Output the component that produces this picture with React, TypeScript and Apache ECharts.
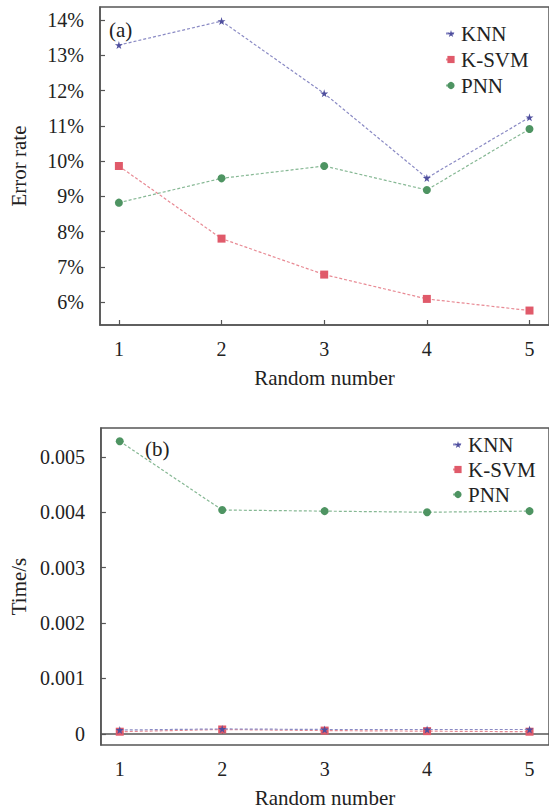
import React, { useEffect, useRef } from "react";
import * as echarts from "echarts";

const randomNumbers = [1, 2, 3, 4, 5];
const errorKNN = [13.29, 13.97, 11.92, 9.52, 11.24];
const errorKSVM = [9.86, 7.8, 6.78, 6.09, 5.76];
const errorPNN = [8.82, 9.51, 9.86, 9.18, 10.91];
const timeKNN = [0.00007, 0.00009, 0.00008, 0.00008, 0.00008];
const timeKSVM = [0.00004, 0.00008, 0.00006, 0.00005, 0.00004];
const timePNN = [0.00528, 0.00404, 0.00402, 0.004, 0.00402];
const errorTicks = [6, 7, 8, 9, 10, 11, 12, 13, 14];
const timeTicks = [0, 0.001, 0.002, 0.003, 0.004, 0.005];
const seriesNames = ["KNN", "K-SVM", "PNN"];

const FONT = "'Liberation Serif', 'Times New Roman', serif";
const TXT = "#222";
const AX = "#555";
const COLORS = { KNN: "#4f4f9e", "K-SVM": "#e05a6a", PNN: "#4e9462" };
const LINECOL = { KNN: "#8a8ac4", "K-SVM": "#e88a94", PNN: "#86b894" };
const STAR =
  "path://M50,0 L61,35 L98,35 L68,57 L79,91 L50,70 L21,91 L32,57 L2,35 L39,35 Z";
const SYMBOLS = { KNN: STAR, "K-SVM": "rect", PNN: "circle" };
const SIZES = { KNN: 8, "K-SVM": 8, PNN: 8 };

function pairs(vals: number[]) {
  return randomNumbers.map((x, i) => [x, vals[i]]);
}

function makeSeries(name: string, vals: number[], idx: number) {
  return {
    name,
    type: "line",
    xAxisIndex: idx,
    yAxisIndex: idx,
    data: pairs(vals),
    symbol: SYMBOLS[name],
    symbolSize: SIZES[name],
    itemStyle: { color: COLORS[name] },
    lineStyle: { color: LINECOL[name], width: 1.2, type: [3, 2] },
    z: name === "KNN" ? 4 : 3,
  };
}

function xAxisCfg(gridIndex: number) {
  return {
    type: "value",
    gridIndex,
    min: 0.816,
    max: 5.19,
    name: "Random number",
    nameLocation: "middle",
    nameGap: 42,
    nameTextStyle: { fontFamily: FONT, fontSize: 21, color: TXT },
    axisLine: { lineStyle: { color: AX, width: 1.5 } },
    axisTick: { inside: true, length: 5, customValues: randomNumbers, lineStyle: { color: AX, width: 1.2 } },
    axisLabel: {
      customValues: randomNumbers,
      margin: 14,
      fontFamily: FONT,
      fontSize: 20,
      color: TXT,
      formatter: (v: number) => String(v),
    },
    splitLine: { show: false },
  };
}

export default function App() {
  const ref = useRef<HTMLDivElement>(null);
  useEffect(() => {
    const chart = echarts.init(ref.current!, null, { renderer: "svg" });
    chart.setOption({
      animation: false,
      backgroundColor: "#fff",
      textStyle: { fontFamily: FONT },
      grid: [
        { left: 98, top: 7, width: 452, height: 318, show: true, borderColor: AX, borderWidth: 1.5 },
        { left: 98, top: 428, width: 452, height: 317, show: true, borderColor: AX, borderWidth: 1.5 },
      ],
      xAxis: [xAxisCfg(0), xAxisCfg(1)],
      yAxis: [
        {
          type: "value",
          gridIndex: 0,
          min: 5.35,
          max: 14.37,
          name: "Error rate",
          nameLocation: "middle",
          nameGap: 71,
          nameTextStyle: { fontFamily: FONT, fontSize: 21, color: TXT },
          axisLine: { show: true, lineStyle: { color: AX, width: 1.5 } },
          axisTick: { show: true, inside: true, length: 5, customValues: errorTicks, lineStyle: { color: AX, width: 1.2 } },
          axisLabel: {
            customValues: errorTicks,
            margin: 16,
            fontFamily: FONT,
            fontSize: 20,
            color: TXT,
            formatter: (v: number) => v + "%",
          },
          splitLine: { show: false },
        },
        {
          type: "value",
          gridIndex: 1,
          min: -0.0002,
          max: 0.00552,
          name: "Time/s",
          nameLocation: "middle",
          nameGap: 70,
          nameTextStyle: { fontFamily: FONT, fontSize: 21, color: TXT },
          axisLine: { show: true, lineStyle: { color: AX, width: 1.5 } },
          axisTick: { show: true, inside: true, length: 5, customValues: timeTicks, lineStyle: { color: AX, width: 1.2 } },
          axisLabel: {
            customValues: timeTicks,
            margin: 16,
            fontFamily: FONT,
            fontSize: 20,
            color: TXT,
            formatter: (v: number) => (Math.abs(v) < 1e-9 ? "0" : v.toFixed(3)),
          },
          splitLine: { show: false },
        },
      ],
      legend: [
        {
          data: seriesNames,
          orient: "vertical",
          left: 445,
          top: 23,
          padding: 0,
          itemWidth: 10,
          itemHeight: 9,
          itemGap: 5,
          textStyle: { fontFamily: FONT, fontSize: 21, color: TXT },
        },
        {
          data: seriesNames,
          orient: "vertical",
          left: 452,
          top: 434,
          padding: 0,
          itemWidth: 10,
          itemHeight: 9,
          itemGap: 4,
          textStyle: { fontFamily: FONT, fontSize: 21, color: TXT },
        },
      ],
      graphic: [
        { type: "text", left: 109, top: 19, style: { text: "(a)", fontFamily: FONT, fontSize: 21, fill: TXT } },
        { type: "text", left: 145, top: 438, style: { text: "(b)", fontFamily: FONT, fontSize: 21, fill: TXT } },
      ],
      series: [
        makeSeries("KNN", errorKNN, 0),
        makeSeries("K-SVM", errorKSVM, 0),
        makeSeries("PNN", errorPNN, 0),
        makeSeries("PNN", timePNN, 1),
        makeSeries("K-SVM", timeKSVM, 1),
        makeSeries("KNN", timeKNN, 1),
      ],
    });
    return () => chart.dispose();
  }, []);
  return (
    <div
      ref={ref}
      style={{ position: "fixed", left: 0, top: 0, width: 549, height: 812, background: "#fff" }}
    />
  );
}
